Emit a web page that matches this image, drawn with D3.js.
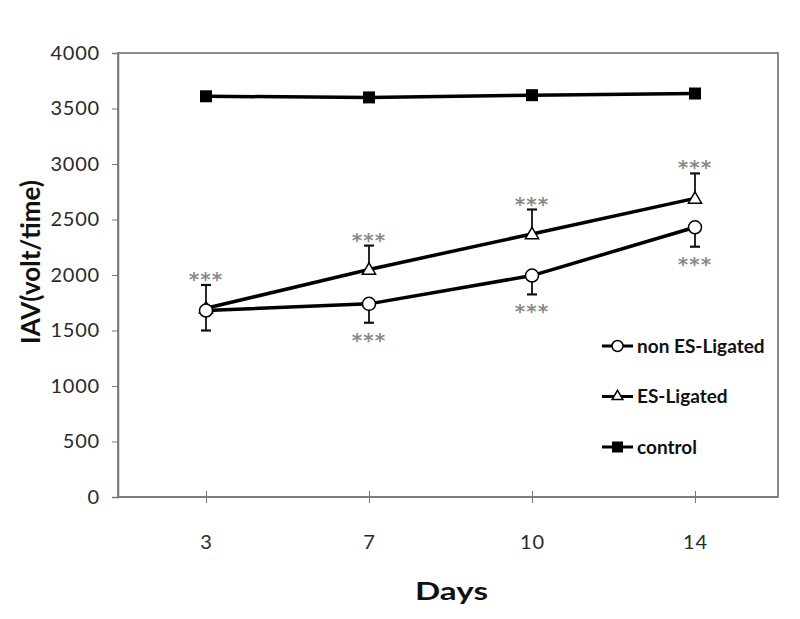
<!DOCTYPE html>
<html>
<head>
<meta charset="utf-8">
<script src="https://cdn.jsdelivr.net/npm/d3@7"></script>
<style>
  body { margin: 0; background: #fff; }
  text { font-family: Lato, "Open Sans", sans-serif; }
</style>
</head>
<body>
<script>
// chart data
var days = ["3", "7", "10", "14"];
var nonLigated = [1680, 1740, 1995, 2430];
var nonLigatedErr = [180, 170, 170, 175];
var esLigated = [1700, 2050, 2370, 2690];
var esLigatedErr = [210, 215, 220, 225];
var control = [3610, 3600, 3620, 3635];
var yTicks = [0, 500, 1000, 1500, 2000, 2500, 3000, 3500, 4000];
// which points carry "***"
var starsAbove = [true, true, true, true];   // ES-Ligated
var starsBelow = [false, true, true, true];  // non ES-Ligated

var width = 800, height = 619;
var plotLeft = 118, plotRight = 778, plotTop = 53, plotBottom = 497;

var svg = d3.select("body").append("svg")
    .attr("width", width)
    .attr("height", height);

// first and last category sit a little off-centre in the frame
var x = d3.scalePoint().domain(days).range([206, 695]);
var y = d3.scaleLinear().domain([0, 4000]).range([plotBottom, plotTop]);

// plot frame
svg.append("rect")
    .attr("x", plotLeft).attr("y", plotTop)
    .attr("width", plotRight - plotLeft).attr("height", plotBottom - plotTop)
    .attr("fill", "none").attr("stroke", "#666").attr("stroke-width", 1.5);

// y axis
var yAxis = svg.append("g")
    .attr("transform", "translate(" + plotLeft + ",0)")
    .call(d3.axisLeft(y).tickValues(yTicks).tickSize(6).tickPadding(12).tickFormat(d3.format("d")));
yAxis.select(".domain").attr("stroke", "#777").attr("stroke-width", 1.5);
yAxis.selectAll(".tick line").attr("stroke", "#777");
yAxis.selectAll("text").attr("font-size", 20).attr("fill", "#2a2a2a")
    .attr("letter-spacing", 0.8)
    .style("font-family", "Lato, sans-serif");

// x axis
var xAxis = svg.append("g")
    .attr("transform", "translate(0," + plotBottom + ")")
    .call(d3.axisBottom(x).tickSizeInner(12).tickSizeOuter(0).tickPadding(26));
xAxis.select(".domain").remove();
xAxis.append("line").attr("x1", plotLeft).attr("x2", plotRight)
    .attr("stroke", "#777").attr("stroke-width", 1.5);
xAxis.selectAll(".tick line").attr("stroke", "#777").attr("transform", "translate(0,-6)");
xAxis.selectAll("text").attr("font-size", 20).attr("fill", "#2a2a2a")
    .attr("letter-spacing", 0.8)
    .style("font-family", "Lato, sans-serif");

// axis titles
svg.append("text")
    .attr("transform", "translate(40,262) rotate(-90)")
    .attr("text-anchor", "middle")
    .attr("font-size", 26).attr("font-weight", "bold").attr("fill", "#111")
    .text("IAV(volt/time)");

svg.append("text")
    .attr("x", 415).attr("y", 600)
    .attr("font-size", 25).attr("font-weight", "bold").attr("fill", "#111")
    .attr("textLength", 73).attr("lengthAdjust", "spacingAndGlyphs")
    .text("Days");

var line = d3.line()
    .x(function(d, i) { return x(days[i]); })
    .y(function(d) { return y(d); });

// error bars (one-sided)
function errorBars(vals, errs, dir) {
    var g = svg.append("g");
    vals.forEach(function(v, i) {
        var cx = x(days[i]);
        var end = y(v + dir * errs[i]);
        g.append("line").attr("x1", cx).attr("x2", cx)
            .attr("y1", y(v)).attr("y2", end)
            .attr("stroke", "#111").attr("stroke-width", 1.8);
        g.append("line").attr("x1", cx - 5).attr("x2", cx + 5)
            .attr("y1", end).attr("y2", end)
            .attr("stroke", "#111").attr("stroke-width", 2.2);
    });
}
errorBars(esLigated, esLigatedErr, 1);
errorBars(nonLigated, nonLigatedErr, -1);

// asterisks
function stars(cx, baseline) {
    svg.append("text")
        .attr("x", cx).attr("y", baseline)
        .attr("text-anchor", "middle").attr("font-size", 20).attr("font-weight", "bold")
        .attr("letter-spacing", 1).attr("fill", "#8a8a8a")
        .style("font-family", "DejaVu Sans, sans-serif")
        .text("***");
}
esLigated.forEach(function(v, i) {
    if (starsAbove[i]) stars(x(days[i]), y(v + esLigatedErr[i]) + 1);
});
nonLigated.forEach(function(v, i) {
    if (starsBelow[i]) stars(x(days[i]), y(v - nonLigatedErr[i]) + 24);
});

// lines
[control, esLigated, nonLigated].forEach(function(s) {
    svg.append("path")
        .datum(s)
        .attr("d", line)
        .attr("fill", "none")
        .attr("stroke", "#000")
        .attr("stroke-width", 3.5);
});

var tri = d3.symbol().type(d3.symbolTriangle).size(75);

// markers
svg.append("g").selectAll("rect")
    .data(control).enter().append("rect")
    .attr("x", function(d, i) { return x(days[i]) - 6; })
    .attr("y", function(d) { return y(d) - 6; })
    .attr("width", 12).attr("height", 12)
    .attr("fill", "#000");

svg.append("g").selectAll("path")
    .data(esLigated).enter().append("path")
    .attr("d", tri)
    .attr("transform", function(d, i) { return "translate(" + x(days[i]) + "," + (y(d) + 1) + ")"; })
    .attr("fill", "#fff").attr("stroke", "#000").attr("stroke-width", 1.5);

svg.append("g").selectAll("circle")
    .data(nonLigated).enter().append("circle")
    .attr("cx", function(d, i) { return x(days[i]); })
    .attr("cy", function(d) { return y(d); })
    .attr("r", 6.5)
    .attr("fill", "#fff").attr("stroke", "#000").attr("stroke-width", 1.5);

// legend
var legendItems = [
    {name: "non ES-Ligated", marker: "circle"},
    {name: "ES-Ligated", marker: "triangle"},
    {name: "control", marker: "square"}
];
var legend = svg.append("g").attr("transform", "translate(602,346)");
legendItems.forEach(function(item, i) {
    var g = legend.append("g").attr("transform", "translate(0," + (i * 50.5) + ")");
    g.append("line").attr("x1", 0).attr("x2", 31).attr("y1", 0).attr("y2", 0)
        .attr("stroke", "#000").attr("stroke-width", 3);
    if (item.marker == "circle") {
        g.append("circle").attr("cx", 15.5).attr("cy", 0).attr("r", 5.5)
            .attr("fill", "#fff").attr("stroke", "#000").attr("stroke-width", 1.5);
    } else if (item.marker == "triangle") {
        g.append("path").attr("d", d3.symbol().type(d3.symbolTriangle).size(50))
            .attr("transform", "translate(15.5,0)")
            .attr("fill", "#fff").attr("stroke", "#000").attr("stroke-width", 1.5);
    } else {
        g.append("rect").attr("x", 10).attr("y", -5.5).attr("width", 11).attr("height", 11)
            .attr("fill", "#000");
    }
    g.append("text").attr("x", 35).attr("y", 6.5)
        .attr("font-size", 19).attr("font-weight", "bold").attr("fill", "#111")
        .text(item.name);
});
</script>
</body>
</html>
